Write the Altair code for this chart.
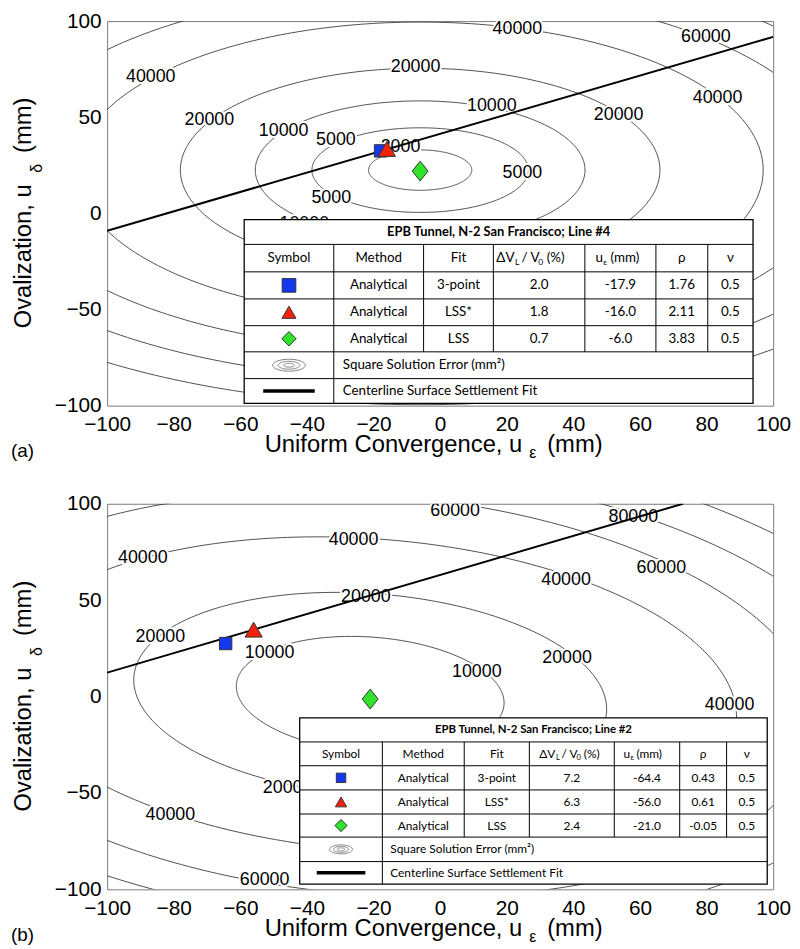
import numpy as np
import pandas as pd
import altair as alt

W = 672
HEIGHTS = {"a": 388, "b": 389}
PLOT_FONT = "Liberation Sans"
TABLE_FONT = "Lato"

# ---------------- values ----------------
# panel (a): square-solution-error contours (level, half width, half height)
levels_a = [2000, 5000, 10000, 20000, 40000, 60000, 80000, 100000]
half_width_a = [15.5, 32.5, 49.5, 72, 103, 126, 146, 164]
half_height_a = [10.5, 22, 36, 53, 77, 94, 109, 122]
centre_a = [-6.0, 22.5]
tilt_a = 0.0

# panel (b)
levels_b = [10000, 20000, 40000, 60000, 80000, 100000]
half_width_b = [40.2, 71, 110, 134, 155, 174.5]
half_height_b = [29.9, 52.5, 81, 104, 119, 134]
centre_b = [-21.0, 1.0]
tilt_b = -0.107

# centerline surface settlement fit (end points)
fit_x_a = [-100, 100]
fit_y_a = [-9.0, 91.8]
fit_x_b = [-100, 72.9]
fit_y_b = [12.4, 100]

# contour labels
clabel_a = ["40000", "20000", "10000", "5000", "5000", "10000", "40000", "60000",
            "20000", "10000", "2000", "20000", "40000", "5000", "40000"]
clabel_x_a = [-86.9, -69.3, -47, -31.3, -32.7, -40.8, 23.2, 79.8,
              -7.4, 15.5, -11.9, 53.6, 83.3, 24.7, -50.5]
clabel_y_a = [71.1, 48.5, 42.8, 38.1, 8.2, -5.7, 96.1, 91.8,
              76.3, 55.7, 34.5, 51, 59.8, 21.1, -46]

clabel_b = ["40000", "40000", "20000", "20000", "10000", "60000", "80000", "60000",
            "40000", "20000", "10000", "40000", "20000", "40000", "60000"]
clabel_x_b = [-89.3, -26, -84, -22.3, -51.2, 4.5, 58, 66.4,
              37.8, 38.1, 11, 86.9, -45.8, -81, -52.7]
clabel_y_b = [71.7, 81, 31, 51.7, 22.4, 96.4, 93.3, 66.6,
              60.4, 19.8, 12.6, -4.4, -47.6, -61.4, -95.4]

# solutions (table rows and markers)
methods = ["Analytical", "Analytical", "Analytical"]
fits = ["3-point", "LSS*", "LSS"]
nu = ["0.5", "0.5", "0.5"]

dvl_a = ["2.0", "1.8", "0.7"]
ueps_a = [-17.9, -16.0, -6.0]
udel_a = [32.5, 33.5, 22.0]
rho_a = ["1.76", "2.11", "3.83"]

dvl_b = ["7.2", "6.3", "2.4"]
ueps_b = [-64.4, -56.0, -21.0]
udel_b = [27.5, 34.7, -1.3]
rho_b = ["0.43", "0.61", "-0.05"]

table_title_a = "EPB Tunnel, N-2 San Francisco; Line #4"
table_title_b = "EPB Tunnel, N-2 San Francisco; Line #2"
header = ["Symbol", "Method", "Fit", "", "", "ρ", "ν"]
legend_rows = ["Square Solution Error (mm²)", "Centerline Surface Settlement Fit"]

# ---------------- styles / layout ----------------
marker_fill = ["#1438f0", "#f5210a", "#31e22b"]
plot_shapes = ["square", "triangle-up", "M0,-1L0.8,0L0,1L-0.8,0Z"]
plot_sizes = [155, 300, 400]
table_shapes = ["square", "triangle-up", "diamond"]

TABLE = {
    "a": dict(cols=[138.3, 228.7, 319.3, 389.7, 482, 553.7, 606, 651.7],
              rows=[200.3, 225.3, 253, 280.3, 307.3, 333.7, 360.7, 385.7],
              fs=13.5, fs_title=13, sub=8.5, sym=[190, 200, 210], ell=(16.5, 6.0),
              line_half=26, pad=9,
              pieces=[("ΔV", 392.7, 0), ("L", 411.5, 1), ("/ V", 418, 0), ("0", 435, 1),
                      ("(%)", 443.5, 0), ("u", 492.7, 0), ("ε", 500.5, 1), ("(mm)", 508, 0)]),
    "b": dict(cols=[194.3, 277.7, 360.3, 426, 511.7, 577.7, 625, 666],
              rows=[216, 240.3, 264.3, 288.7, 313, 336.3, 361, 383.7],
              fs=12, fs_title=11.5, sub=7.5, sym=[90, 130, 150], ell=(11.5, 4.5),
              line_half=24.5, pad=8,
              pieces=[("ΔV", 436, 0), ("L", 452.8, 1), ("/ V", 458.5, 0), ("0", 473.5, 1),
                      ("(%)", 481, 0), ("u", 521, 0), ("ε", 528, 1), ("(mm)", 534, 0)]),
}


def make_panel(key, levels, hw, hh, centre, tilt, fx_pts, fy_pts, clab, clx, cly,
               dvl, ueps, udel, rho, ttl, tag):
    Hh = HEIGHTS[key]
    T = TABLE[key]
    px2x = lambda px: -100 + px * 200.0 / W
    px2y = lambda py: 100 - py * 200.0 / Hh

    sx = alt.Scale(domain=[-100, 100], nice=False, zero=False)
    sy = alt.Scale(domain=[-100, 100], nice=False, zero=False)
    ax_x = alt.Axis(values=list(range(-100, 101, 20)), title=None, grid=False, ticks=False,
                    domain=False, labelFont=PLOT_FONT, labelFontSize=21, labelColor="black",
                    labelPadding=8, labelFlush=False, labelOverlap=False, format="d")
    ax_y = alt.Axis(values=[-100, -50, 0, 50, 100], title=None, grid=False, ticks=False,
                    domain=False, labelFont=PLOT_FONT, labelFontSize=21, labelColor="black",
                    labelPadding=6, labelFlush=False, labelOverlap=False, format="d")

    def X(f="x"):
        return alt.X(f"{f}:Q", scale=sx, axis=ax_x)

    def Y(f="y"):
        return alt.Y(f"{f}:Q", scale=sy, axis=ax_y)

    layers = []

    # contours
    t = np.linspace(0, 2 * np.pi, 361)
    rows = []
    for lv, a, b in zip(levels, hw, hh):
        dx = a * np.cos(t)
        xs = centre[0] + dx
        ys = centre[1] + tilt * dx + b * np.sin(t)
        for i, (xv, yv) in enumerate(zip(xs, ys)):
            rows.append(dict(level=lv, i=i, x=xv, y=yv))
    cdf = pd.DataFrame(rows)
    layers.append(alt.Chart(cdf).mark_line(clip=True, color="#3c3c3c", strokeWidth=0.9)
                  .encode(x=X(), y=Y(), detail="level:N", order="i:Q"))

    # contour labels (white halo + text)
    ldf = pd.DataFrame(dict(x=clx, y=cly, t=clab))
    layers.append(alt.Chart(ldf).mark_text(clip=True, font=PLOT_FONT, fontSize=18,
                                           stroke="white", strokeWidth=4, color="white")
                  .encode(x=X(), y=Y(), text="t:N"))
    layers.append(alt.Chart(ldf).mark_text(clip=True, font=PLOT_FONT, fontSize=18, color="black")
                  .encode(x=X(), y=Y(), text="t:N"))

    # centerline fit
    fdf = pd.DataFrame(dict(x=fx_pts, y=fy_pts, i=[0, 1]))
    layers.append(alt.Chart(fdf).mark_line(clip=True, color="black", strokeWidth=2)
                  .encode(x=X(), y=Y(), order="i:Q"))

    # solution markers
    mdf = pd.DataFrame(dict(x=ueps, y=udel, shape=plot_shapes, fill=marker_fill, s=plot_sizes))
    layers.append(alt.Chart(mdf).mark_point(filled=True, opacity=1, strokeWidth=1)
                  .encode(x=X(), y=Y(), shape=alt.Shape("shape:N", scale=None),
                          fill=alt.Fill("fill:N", scale=None), size=alt.Size("s:Q", scale=None),
                          stroke=alt.value("#333333")))

    # ---------------- table ----------------
    cols, rws = T["cols"], T["rows"]
    rect = pd.DataFrame(dict(x=[px2x(cols[0])], x2=[px2x(cols[-1])],
                             y=[px2y(rws[0])], y2=[px2y(rws[-1])]))
    layers.append(alt.Chart(rect).mark_rect(fill="white", stroke="black", strokeWidth=1.3)
                  .encode(x=X(), x2="x2:Q", y=Y(), y2="y2:Q"))
    rl = []
    for r in rws[1:-1]:
        rl.append(dict(x=px2x(cols[0]), x2=px2x(cols[-1]), y=px2y(r), y2=px2y(r)))
    for j, c in enumerate(cols[1:-1]):
        bottom = rws[-1] if j == 0 else rws[5]
        rl.append(dict(x=px2x(c), x2=px2x(c), y=px2y(rws[1]), y2=px2y(bottom)))
    layers.append(alt.Chart(pd.DataFrame(rl)).mark_rule(color="black", strokeWidth=1)
                  .encode(x=X(), x2="x2:Q", y=Y(), y2="y2:Q"))

    ccen = [(cols[k] + cols[k + 1]) / 2 for k in range(len(cols) - 1)]
    rcen = [(rws[k] + rws[k + 1]) / 2 for k in range(len(rws) - 1)]

    ctext = []
    for k, h in enumerate(header):
        if h:
            ctext.append(dict(x=px2x(ccen[k]), y=px2y(rcen[1]), t=h))
    for r in range(3):
        vals = [methods[r], fits[r], dvl[r], f"{ueps[r]:.1f}", rho[r], nu[r]]
        for k, v in enumerate(vals):
            ctext.append(dict(x=px2x(ccen[k + 1]), y=px2y(rcen[2 + r]), t=v))
    layers.append(alt.Chart(pd.DataFrame(ctext))
                  .mark_text(font=TABLE_FONT, fontSize=T["fs"], color="black")
                  .encode(x=X(), y=Y(), text="t:N"))

    ltext = []
    for (txt, pxl, is_sub) in T["pieces"]:
        ltext.append(dict(x=px2x(pxl), y=px2y(rcen[1] + (4 if is_sub else 0)), t=txt,
                          fs=T["sub"] if is_sub else T["fs"]))
    for r, txt in enumerate(legend_rows):
        ltext.append(dict(x=px2x(cols[1] + T["pad"]), y=px2y(rcen[5 + r]), t=txt, fs=T["fs"]))
    layers.append(alt.Chart(pd.DataFrame(ltext))
                  .mark_text(font=TABLE_FONT, align="left", color="black")
                  .encode(x=X(), y=Y(), text="t:N", size=alt.Size("fs:Q", scale=None)))

    tdf = pd.DataFrame(dict(x=[px2x((cols[0] + cols[-1]) / 2)], y=[px2y(rcen[0])], t=[ttl]))
    layers.append(alt.Chart(tdf).mark_text(font=TABLE_FONT, fontSize=T["fs_title"],
                                           fontWeight="bold", color="black")
                  .encode(x=X(), y=Y(), text="t:N"))

    sdf = pd.DataFrame(dict(x=[px2x(ccen[0])] * 3, y=[px2y(rcen[2 + r]) for r in range(3)],
                            shape=table_shapes, fill=marker_fill, s=T["sym"]))
    layers.append(alt.Chart(sdf).mark_point(filled=True, opacity=1, strokeWidth=1)
                  .encode(x=X(), y=Y(), shape=alt.Shape("shape:N", scale=None),
                          fill=alt.Fill("fill:N", scale=None), size=alt.Size("s:Q", scale=None),
                          stroke=alt.value("#333333")))

    # legend icon: concentric ellipses
    ea, eb = T["ell"]
    erows = []
    tt = np.linspace(0, 2 * np.pi, 91)
    for g, f in enumerate([1.0, 0.66, 0.33]):
        for i, v in enumerate(tt):
            erows.append(dict(g=g, i=i, x=px2x(ccen[0] + f * ea * np.cos(v)),
                              y=px2y(rcen[5] + f * eb * np.sin(v))))
    layers.append(alt.Chart(pd.DataFrame(erows)).mark_line(color="#7a7a7a", strokeWidth=1)
                  .encode(x=X(), y=Y(), detail="g:N", order="i:Q"))
    # legend icon: thick line
    lidf = pd.DataFrame(dict(x=[px2x(ccen[0] - T["line_half"])], x2=[px2x(ccen[0] + T["line_half"])],
                             y=[px2y(rcen[6])], y2=[px2y(rcen[6])]))
    layers.append(alt.Chart(lidf).mark_rule(color="black", strokeWidth=3.5)
                  .encode(x=X(), x2="x2:Q", y=Y(), y2="y2:Q"))

    # axis titles and panel tag (outside the plot)
    tit = [
        ("Ovalization, u", -77, Hh / 2 + 116, 24, 270),
        ("δ", -66, Hh / 2 - 41, 16, 270),
        ("(mm)", -77, Hh / 2 - 61, 24, 270),
        ("Uniform Convergence, u", W / 2 - 177, Hh + 47, 24, 0),
        ("ε", W / 2 + 90, Hh + 53, 16, 0),
        ("(mm)", W / 2 + 108, Hh + 47, 24, 0),
        (tag, -97, Hh + 52, 19, 0),
    ]
    tidf = pd.DataFrame([dict(t=a, x=px2x(b), y=px2y(c), fs=d, ang=e) for a, b, c, d, e in tit])
    layers.append(alt.Chart(tidf).mark_text(font=PLOT_FONT, align="left", baseline="alphabetic",
                                            color="black")
                  .encode(x=X(), y=Y(), text="t:N", size=alt.Size("fs:Q", scale=None),
                          angle=alt.Angle("ang:Q", scale=None)))

    return alt.layer(*layers).properties(width=W, height=Hh)


panel_a = make_panel("a", levels_a, half_width_a, half_height_a, centre_a, tilt_a,
                     fit_x_a, fit_y_a, clabel_a, clabel_x_a, clabel_y_a,
                     dvl_a, ueps_a, udel_a, rho_a, table_title_a, "(a)")
panel_b = make_panel("b", levels_b, half_width_b, half_height_b, centre_b, tilt_b,
                     fit_x_b, fit_y_b, clabel_b, clabel_x_b, clabel_y_b,
                     dvl_b, ueps_b, udel_b, rho_b, table_title_b, "(b)")

chart = (alt.vconcat(panel_a, panel_b, spacing=30)
         .properties(padding={"left": 2, "top": -3, "right": 0, "bottom": 0}, background="white")
         .configure_view(stroke="#7a7a7a", strokeWidth=1))

chart.save("out.html", embed_options={"renderer": "svg", "actions": False})
